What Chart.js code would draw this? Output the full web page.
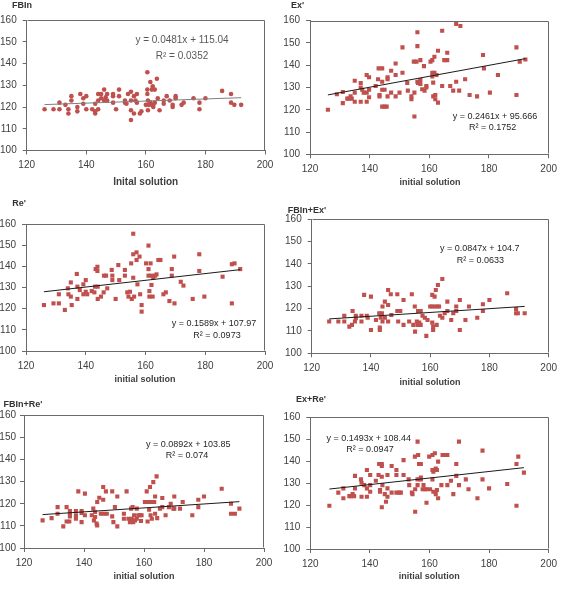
<!DOCTYPE html>
<html><head><meta charset="utf-8">
<script src="https://cdn.jsdelivr.net/npm/chart.js@4.4.1/dist/chart.umd.min.js"></script>
<style>
html,body{margin:0;padding:0;background:#fff;}
#wrap{position:relative;width:562px;height:589px;overflow:hidden;background:#fff;}
#wrap canvas{position:absolute;}
</style></head><body><div id="wrap"></div>
<script>
// ---------- DATA ----------
const panelTitles = ["FBIn", "Ex'", "Re'", "FBIn+Ex'", "FBIn+Re'", "Ex+Re'"];
const xAxisTitles = ["Inital solution", "initial solution", "initial solution", "initial solution", "initial solution", "initial solution"];
const slopes = [0.0481, 0.2461, 0.1589, 0.0847, 0.0892, 0.1493];
const intercepts = [115.04, 95.666, 107.97, 104.7, 103.85, 108.44];
const equations = ["y = 0.0481x + 115.04", "y = 0.2461x + 95.666", "y = 0.1589x + 107.97", "y = 0.0847x + 104.7", "y = 0.0892x + 103.85", "y = 0.1493x + 108.44"];
const rSquared = ["R\u00B2 = 0.0352", "R\u00B2 = 0.1752", "R\u00B2 = 0.0973", "R\u00B2 = 0.0633", "R\u00B2 = 0.074", "R\u00B2 = 0.0947"];
const xTickValues = [120, 140, 160, 180, 200];
const yTickValues = [100, 110, 120, 130, 140, 150, 160];

const fbinPts = [[126,119],[129,119],[131,122],[131,119],[133,121],[134,119],[134,117],[135,125],[135,123],[137,120],[137,118],[138,126],[139,124],[139,121.5],[140,125],[140,119],[142,119],[143,121.5],[143,118],[143,117],[144,126],[144,123],[144,119],[145,126],[145,124],[146,123],[146,128],[146.5,124.5],[147,126],[147,123],[149,126],[149,125],[149,122],[150,119],[151,128],[151,125],[153,123],[153,122],[153.5,121.5],[154,126],[155,127],[155,123],[155,114],[155,118.5],[156,125],[156,117],[156.5,123],[157,122],[157,126],[158,117],[158.5,118],[160,121],[160.5,136],[160.5,128],[160.5,126],[160.7,123],[160.7,118.5],[161,121],[161.5,131.5],[161.5,122],[162,128],[162.3,129.5],[162,121],[162.5,120],[162.5,121],[163,122],[163,128],[163.7,133],[164,124],[164.6,118.5],[166,123],[166,121.5],[167,125],[168,123],[169,121],[169,120],[170,125],[170,124],[172,121],[172.7,122],[176,124],[178,122],[178,119],[180,124],[185.6,127.4],[188.6,126],[188.6,122],[189.7,121],[192,121]];

const exPts = [[126,120],[129,127],[131,128],[131,123],[132.5,125],[133,125],[133.6,126],[134,125],[135,133],[135,127.7],[135,123.6],[137,132],[137,130],[137,123.6],[137.5,129],[138,127.7],[139,135.6],[139,127.7],[139,123.6],[139.8,134.6],[139.8,129],[139.8,125.6],[142,130.7],[142.8,133.7],[143,138.6],[143.3,126],[143.3,126.6],[144.2,138.6],[144.2,132.6],[144.2,129],[144.2,121.4],[145,129],[145,121.4],[145.7,121.4],[146,134.6],[146,133.7],[146,126],[147.2,137.5],[147.2,127.7],[148.7,140.8],[148.7,135.6],[148.7,126],[150,127.7],[151,148],[151,136.6],[152.6,132],[152.8,128.6],[154,126],[154,124.7],[154.8,141.6],[155,117],[155,127.7],[155.7,141.6],[156,154.8],[156,148.6],[156,132.6],[156.2,132],[156.8,132.6],[157,142.3],[157,133.4],[157,131.6],[157.6,129.2],[158.2,139.6],[158.4,128.6],[159,130],[159,130.7],[160.4,141.6],[161,142.3],[161,136.6],[161,135],[161.3,132.2],[161.3,126],[161.7,143.8],[161.7,136.6],[162,126.6],[162,124.7],[162.4,135.6],[162.9,146.5],[162.9,123.2],[164.3,155.5],[164.3,130.7],[165,142.3],[166,145.6],[166,142.3],[167,130.7],[168,128.6],[169,132.6],[169,158.5],[170,128.6],[170.4,157.6],[172,133.7],[173.5,126.6],[176,126],[178,144.6],[178.3,138.6],[180.3,127.7],[183,135.6],[189.2,148],[189.2,126.6],[190.3,141.6],[192.2,142.6]];

const rePts = [[126,121.7],[129.2,122.5],[131,122.5],[131,126.8],[133,119.4],[134,129.6],[134.2,126.8],[135,132.4],[135,125.7],[135.3,121.7],[137,136.4],[137.2,130.4],[137.2,124.6],[138,128.8],[139.2,131.5],[139.2,126.8],[140,133.5],[140,128],[140.5,126.8],[142,128.3],[142.9,127.7],[143.1,130.4],[143.3,138.7],[143.9,139.8],[143.9,137.8],[144,130.4],[144,124.6],[145.1,125.7],[146,127.7],[146.1,135.6],[146.8,135.6],[147.2,129.6],[148.7,138.3],[148.9,135.6],[148.9,133.5],[150,124.6],[150.9,140.6],[151.2,133.5],[153.1,138.3],[153.1,135.6],[153.9,127.7],[154.3,125.7],[155.2,141.4],[154.8,128],[155.4,124.6],[155.9,155.4],[155.9,145.7],[155.9,134.6],[156.2,125.7],[157,146.6],[157,143],[157.3,131.5],[158,144.6],[158.2,126.8],[158.7,121.7],[158.7,118.6],[160.2,141.4],[161,149.8],[161,138.7],[161,135.6],[161.3,128.3],[161.3,125.7],[161.7,141.4],[162,135.6],[162,131.2],[162.4,125.7],[162.6,134.6],[163.2,135.6],[163.7,136.2],[164.3,143],[165,143],[166,126.8],[166.8,127.7],[168,123.6],[168.8,138.7],[168.8,135.6],[169.6,144.6],[169.7,122.5],[171.8,132.7],[172.7,130.9],[175.8,124.6],[178,145.7],[178,137.8],[179.7,125.7],[185.8,135.1],[188.9,141],[188.9,122.5],[189.8,141.4],[191.7,138.7]];

const fbinExPts = [[125.9,114.2],[129,114.2],[131,114.2],[131,116.8],[132.7,111.9],[133.6,112.7],[133.8,118.9],[134.6,114.2],[134.9,116.8],[134.9,115.7],[136.8,116.8],[136.8,114.2],[137.7,126.1],[138.6,116.8],[138.9,115.9],[140,125.3],[140,110.4],[141.7,114.9],[142.8,117.9],[143,111.5],[143,110.4],[143.3,115.9],[143.7,117.9],[143.9,120.9],[143.9,114.2],[144.7,123.1],[144.7,115.9],[145.8,128.3],[145.8,121.6],[145.8,114.2],[146.7,126.4],[146.9,117.1],[148.9,126.4],[148.9,118.9],[149.2,114.2],[149.9,118.9],[151,123.8],[151,112.7],[152.9,114.2],[153.8,126.4],[154.3,112.7],[154.8,120.9],[154.9,109.7],[155.5,114.2],[155.7,112.7],[155.9,118.9],[156.3,113.7],[156.8,118.9],[156.8,112.7],[157.4,116.8],[158.2,115.9],[158.7,107.8],[159.1,114.9],[160,120.9],[160.7,126.1],[160.7,120.9],[160.7,113.7],[161,111.9],[161,110.4],[161.5,125.3],[161.5,120.9],[161.9,128.3],[162.2,112.7],[162.4,120.9],[162.6,130.5],[163,120.9],[163.3,116.8],[164.1,133.2],[164.1,115.9],[164.9,117.9],[165.8,123.1],[165.8,118.9],[167.1,114.9],[167.8,117.9],[168.8,120.9],[168.8,118.9],[170,123.8],[170,110.4],[171.9,114.9],[173.1,120.9],[175.9,115.9],[177.8,121.9],[177.8,118.9],[180,123.8],[186,126.8],[189,119.8],[189,117.9],[189.6,117.9],[191.9,117.9]];

const fbinRePts = [[126.2,112.5],[129.2,113.5],[131.2,118.5],[131.2,115.5],[133.1,109.8],[134.2,118.5],[134.2,112],[135.1,112],[135.3,116.7],[135.3,115.5],[135.3,114.3],[137.3,116.7],[137.3,114.8],[137.3,113.2],[138.1,125.6],[139.2,116.7],[139.2,115.8],[139.2,111.7],[140.3,124.6],[140.3,114.8],[142.6,114.8],[143.1,117.8],[143.3,112.5],[143.7,116.3],[143.7,114],[144.2,111],[144.4,110.2],[144.4,120.8],[145.1,122.7],[145.6,115.5],[146.4,127.6],[146.4,121.8],[146.7,115.5],[147.3,125.6],[147.6,115.5],[149.4,125.6],[149.4,114.3],[149.8,111.7],[150.3,118.5],[151.1,123.3],[151.1,109.8],[153.3,115.5],[153.3,113.2],[154.2,125.6],[154.8,113.2],[155.3,111.7],[155.7,117.8],[155.9,113.2],[156.4,111.7],[157,112.5],[156.2,118.5],[156.7,114.8],[157.6,117.8],[157.6,113.2],[158.1,114.8],[158.7,114.8],[159.2,114.8],[159,112.2],[160.3,120.8],[160.9,120.8],[161.4,120.8],[162.1,120.8],[162.8,120.8],[163.4,120.8],[160.9,125.6],[161.2,112],[161.7,117.3],[162,127.6],[162.2,114.8],[162.6,113.2],[163.1,129.8],[163.7,123.3],[163.7,115.5],[164.2,132.4],[164.4,113.5],[165.3,117.8],[166.1,122.6],[166.1,118.5],[167.2,114.8],[168.3,118.5],[168.9,120],[169.8,117.8],[170.1,123.3],[170.1,117.8],[172,117.8],[172.9,120.8],[176.1,114.8],[178.1,121.8],[178.1,118.5],[180,123.3],[185.9,126.8],[189,120],[189,115.5],[190.3,115.5],[191.8,117.8]];

const exRePts = [[126.4,119.7],[129.4,125.7],[131.1,127.6],[131.1,123.1],[133.1,124.1],[133.6,124.1],[134.2,125],[134.7,124.1],[135,133.3],[135,127.6],[137,131.7],[137.2,130.2],[137.2,123.8],[138.1,129.1],[139,136],[139,127.6],[139,123.8],[140.1,133.7],[140.1,129.1],[140.1,126.1],[142,131.1],[142.9,133.7],[143.1,138.7],[143.4,126.9],[143.4,126.1],[144,138.7],[144,137.8],[144,132.9],[144.2,129.1],[144,119],[145,125],[145.4,121.5],[145.9,123.8],[145.9,133.7],[145.9,127.6],[147.3,137.8],[147.3,125.7],[148.9,136],[148.9,133.7],[148.9,125.7],[149.8,125.7],[150.4,125.7],[151.3,140.5],[151.3,133.7],[153,131.7],[153.2,129.1],[154.1,125.7],[154.3,125],[155.1,142.1],[155.2,117],[155.2,127.2],[156,148.9],[156,131.7],[156,129.1],[156.2,142.8],[156.5,138.7],[157.1,138.7],[157.1,132.6],[157.1,131.7],[157.7,127.2],[158,129.1],[158.4,127.2],[159,127.2],[159,121.1],[159.9,142.1],[160.2,127.2],[161,142.8],[161,136],[161,131.7],[161.3,135.2],[161.3,126.1],[161.8,143.6],[162.1,136.7],[162.1,125],[162.5,136],[162.5,126.9],[162.9,139.8],[162.9,123.1],[164,129.1],[164.4,142.8],[165.2,142.8],[166,142.8],[166,129.1],[167.2,131.1],[168,125],[169,138.7],[169,133.3],[169.9,129.1],[169.9,148.9],[172.2,131.7],[173.1,127.2],[176.1,123.1],[177.8,144.8],[177.8,131.7],[180,127.6],[186.1,129.6],[189.2,138.7],[189.2,119.7],[189.8,142.1],[191.7,134.8]];

const panelData = [fbinPts, exPts, rePts, fbinExPts, fbinRePts, exRePts];

// ---------- LAYOUT (page pixels) ----------
const Y_AXIS_W = 32, X_AXIS_H = 20;
const cells = [
  {pr:281, y0:0,   h:195, L:26.7,  T:20,    R:265,   B:150.5, tpad:6},
  {pr:562, y0:0,   h:195, L:310,   T:20.7,  R:549,   B:154.3, tpad:6},
  {pr:281, y0:195, h:195, L:26,    T:224,   R:265,   B:351,   tpad:6},
  {pr:562, y0:195, h:195, L:311.7, T:219,   R:549.3, B:353.3, tpad:6},
  {pr:281, y0:390, h:199, L:24,    T:415.3, R:264,   B:548,   tpad:4},
  {pr:562, y0:390, h:199, L:310.3, T:417.3, R:549.3, B:549,   tpad:6}
];
const textPos = [
  {title:[12,6],    eq:[182,40],    r2:[182,56],    xt:[145.7,182.3], big:true},
  {title:[291,6],   eq:[495,116.7], r2:[492.7,127.7], xt:[430,182.7]},
  {title:[12.3,204],eq:[214,323.3], r2:[217,335.7], xt:[145,379.3]},
  {title:[287.7,210.7], eq:[479.7,248.3], r2:[480.3,260.7], xt:[430,382.7]},
  {title:[3.5,405], eq:[188.3,444.3], r2:[187,456], xt:[144,576.7]},
  {title:[296,399.3], eq:[368.7,438.3], r2:[370,449.3], xt:[429.3,576.7]}
];

const FONT = "'Liberation Sans', Arial, sans-serif";
const RED = '#C0504D';
const wrap = document.getElementById('wrap');

const borderPlugin = {
  id: 'plotBorder',
  afterDatasetsDraw(chart) {
    const a = chart.chartArea, ctx = chart.ctx;
    ctx.save();
    ctx.strokeStyle = '#6a6a6a';
    ctx.lineWidth = 1;
    const l = Math.round(a.left) + 0.5, t = Math.round(a.top) + 0.5;
    const r = Math.round(a.right) - 0.5, b = Math.round(a.bottom) - 0.5;
    ctx.beginPath();
    ctx.moveTo(l, t); ctx.lineTo(r, t); ctx.lineTo(r, b);
    ctx.stroke();
    ctx.restore();
  }
};

function makeTextPlugin(i, ox, oy) {
  const tp = textPos[i];
  return {
    id: 'texts' + i,
    afterDraw(chart) {
      const ctx = chart.ctx;
      ctx.save();
      ctx.textBaseline = 'middle';
      ctx.fillStyle = '#333';
      ctx.font = 'bold 9px ' + FONT;
      ctx.textAlign = 'left';
      ctx.fillText(panelTitles[i], tp.title[0] - ox, tp.title[1] - oy);
      ctx.textAlign = 'center';
      ctx.fillStyle = tp.big ? '#595959' : '#262626';
      ctx.font = (tp.big ? '10px ' : '9px ') + FONT;
      ctx.fillText(equations[i], tp.eq[0] - ox, tp.eq[1] - oy);
      ctx.fillText(rSquared[i], tp.r2[0] - ox, tp.r2[1] - oy);
      ctx.fillStyle = '#404040';
      ctx.font = 'bold ' + (tp.big ? '10px ' : '9px ') + FONT;
      ctx.fillText(xAxisTitles[i], tp.xt[0] - ox, tp.xt[1] - oy);
      ctx.restore();
    }
  };
}

cells.forEach((cell, i) => {
  const ox = Math.floor(cell.L - Y_AXIS_W);
  const oy = cell.y0;
  const w = cell.pr - ox, h = cell.h;
  const cv = document.createElement('canvas');
  cv.width = w; cv.height = h;
  cv.style.left = ox + 'px'; cv.style.top = oy + 'px';
  cv.style.width = w + 'px'; cv.style.height = h + 'px';
  wrap.appendChild(cv);

  const pts = panelData[i];
  const xs = pts.map(p => p[0]);
  const xmin = Math.min(...xs), xmax = Math.max(...xs);
  const trend = [xmin, xmax].map(x => ({x: x, y: slopes[i] * x + intercepts[i]}));

  const pad = {
    left: cell.L - ox - Y_AXIS_W,
    top: cell.T - oy,
    right: cell.pr - cell.R,
    bottom: oy + h - cell.B - X_AXIS_H
  };

  new Chart(cv, {
    type: 'scatter',
    data: {
      datasets: [
        {type: 'line', data: trend, borderColor: i === 0 ? '#7f7f7f' : '#1a1a1a', borderWidth: 1,
         pointRadius: 0, fill: false, tension: 0},
        {data: pts.map(p => ({x: p[0], y: p[1]})), backgroundColor: RED, borderColor: RED,
         borderWidth: 0, pointStyle: i === 0 ? 'circle' : 'rect', pointRadius: i === 0 ? 2.3 : 2.9}
      ]
    },
    options: {
      responsive: false, animation: false, events: [],
      devicePixelRatio: 1,
      layout: {padding: pad},
      plugins: {legend: {display: false}, tooltip: {enabled: false}, title: {display: false}},
      scales: {
        x: {
          type: 'linear', min: 120, max: 200,
          afterBuildTicks: s => { s.ticks = xTickValues.map(v => ({value: v})); },
          afterFit: s => { s.height = X_AXIS_H; },
          ticks: {font: {family: FONT, size: 10}, color: '#404040', padding: 5, maxRotation: 0, autoSkip: false},
          grid: {drawOnChartArea: false, drawTicks: true, tickLength: 4, color: '#6a6a6a'},
          border: {display: true, color: '#6a6a6a', width: 1}
        },
        y: {
          type: 'linear', min: 100, max: 160,
          afterBuildTicks: s => { s.ticks = yTickValues.map(v => ({value: v})); },
          afterFit: s => { s.width = Y_AXIS_W; },
          ticks: {font: {family: FONT, size: 10}, color: '#404040', padding: cell.tpad, autoSkip: false},
          grid: {drawOnChartArea: false, drawTicks: true, tickLength: 4, color: '#6a6a6a'},
          border: {display: true, color: '#6a6a6a', width: 1}
        }
      }
    },
    plugins: [borderPlugin, makeTextPlugin(i, ox, oy)]
  });
});
</script>
</body></html>
